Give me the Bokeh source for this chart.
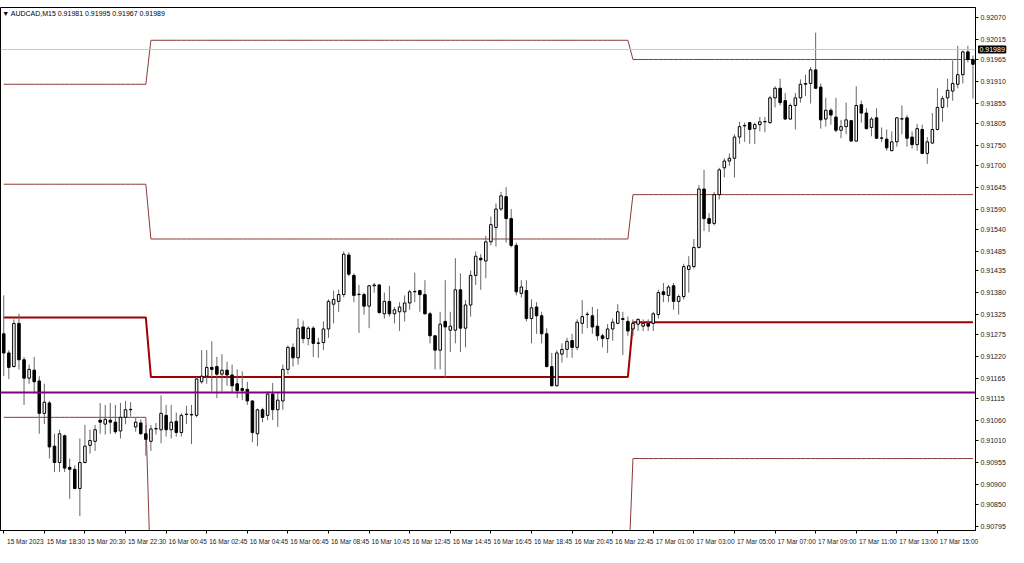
from bokeh.plotting import figure
from bokeh.models import Range1d, FixedTicker, Label, ColumnDataSource, Span, PrintfTickFormatter
from bokeh.embed import file_html
from bokeh.resources import INLINE

# ---- data (AUDCAD M15 candles) ----
opens = [
0.91278,0.91230,0.91196,0.91304,0.91213,0.91167,0.91187,0.91160,0.91079,0.91105,0.90997,0.90956,
0.91023,0.90944,0.90939,0.90891,0.90956,0.90999,0.91009,0.91062,0.91052,0.91062,0.91057,0.91035,
0.91069,0.91088,0.91045,0.91055,0.91028,0.91009,0.91040,0.91038,0.91074,0.91038,0.91059,0.91031,
0.91076,0.91076,0.91074,0.91158,0.91172,0.91194,0.91196,0.91177,0.91187,0.91175,0.91153,0.91141,
0.91139,0.91110,0.91028,0.91088,0.91074,0.91127,0.91088,0.91110,0.91189,0.91244,0.91218,0.91295,
0.91266,0.91292,0.91254,0.91256,0.91290,0.91352,0.91359,0.91376,0.91475,0.91424,0.91376,0.91376,
0.91347,0.91398,0.91400,0.91328,0.91359,0.91328,0.91333,0.91333,0.91355,0.91383,0.91386,0.91376,
0.91328,0.91273,0.91237,0.91309,0.91287,0.91287,0.91388,0.91292,0.91350,0.91424,0.91467,0.91460,
0.91508,0.91544,0.91590,0.91621,0.91566,0.91499,0.91379,0.91386,0.91316,0.91345,0.91323,0.91278,
0.91196,0.91148,0.91227,0.91239,0.91261,0.91244,0.91304,0.91326,0.91323,0.91297,0.91273,0.91266,
0.91290,0.91304,0.91316,0.91309,0.91290,0.91302,0.91297,0.91304,0.91304,0.91326,0.91383,0.91374,
0.91398,0.91359,0.91371,0.91439,0.91446,0.91494,0.91640,0.91566,0.91554,0.91626,0.91693,0.91710,
0.91717,0.91770,0.91799,0.91806,0.91791,0.91801,0.91808,0.91806,0.91868,0.91892,0.91861,0.91815,
0.91849,0.91868,0.91902,0.91904,0.91938,0.91895,0.91815,0.91837,0.91820,0.91787,0.91796,0.91811,
0.91760,0.91851,0.91830,0.91794,0.91818,0.91767,0.91765,0.91736,0.91758,0.91815,0.91818,0.91770,
0.91751,0.91789,0.91729,0.91755,0.91789,0.91844,0.91868,0.91885,0.91902,0.91926,0.91983,0.91964]

highs = [
0.91374,0.91237,0.91314,0.91328,0.91220,0.91201,0.91220,0.91172,0.91153,0.91110,0.91028,0.91038,
0.91026,0.90966,0.90949,0.91016,0.91050,0.91038,0.91050,0.91105,0.91100,0.91105,0.91100,0.91105,
0.91110,0.91107,0.91069,0.91064,0.91050,0.91050,0.91055,0.91124,0.91100,0.91100,0.91081,0.91079,
0.91098,0.91100,0.91170,0.91237,0.91237,0.91259,0.91220,0.91227,0.91208,0.91201,0.91189,0.91184,
0.91158,0.91112,0.91091,0.91093,0.91134,0.91155,0.91129,0.91201,0.91249,0.91254,0.91316,0.91311,
0.91297,0.91297,0.91268,0.91309,0.91364,0.91386,0.91388,0.91484,0.91482,0.91429,0.91400,0.91381,
0.91400,0.91405,0.91403,0.91381,0.91398,0.91345,0.91357,0.91374,0.91388,0.91431,0.91388,0.91412,
0.91333,0.91275,0.91333,0.91412,0.91333,0.91467,0.91429,0.91362,0.91436,0.91484,0.91477,0.91523,
0.91571,0.91604,0.91633,0.91645,0.91590,0.91506,0.91412,0.91412,0.91364,0.91357,0.91333,0.91292,
0.91230,0.91237,0.91254,0.91268,0.91278,0.91314,0.91362,0.91333,0.91345,0.91340,0.91278,0.91302,
0.91316,0.91352,0.91333,0.91321,0.91314,0.91316,0.91314,0.91314,0.91333,0.91388,0.91405,0.91400,
0.91405,0.91376,0.91453,0.91472,0.91515,0.91650,0.91688,0.91580,0.91633,0.91693,0.91717,0.91729,
0.91777,0.91808,0.91806,0.91808,0.91806,0.91820,0.91820,0.91873,0.91897,0.91916,0.91880,0.91854,
0.91880,0.91914,0.91926,0.91945,0.92031,0.91904,0.91868,0.91842,0.91868,0.91813,0.91856,0.91813,
0.91897,0.91861,0.91842,0.91820,0.91842,0.91794,0.91789,0.91784,0.91820,0.91849,0.91825,0.91784,
0.91803,0.91801,0.91770,0.91830,0.91892,0.91873,0.91916,0.91962,0.91998,0.91986,0.91998,0.91974]

lows = [
0.91172,0.91165,0.91194,0.91189,0.91100,0.91153,0.91129,0.91028,0.91052,0.90966,0.90932,0.90932,
0.90932,0.90865,0.90889,0.90822,0.90954,0.90978,0.90985,0.91028,0.91026,0.91028,0.91028,0.91016,
0.91052,0.91071,0.91033,0.91026,0.90973,0.90985,0.91026,0.91004,0.91021,0.91016,0.91021,0.91021,
0.91052,0.91002,0.91069,0.91153,0.91153,0.91134,0.91117,0.91134,0.91148,0.91131,0.91117,0.91112,
0.91100,0.91007,0.90997,0.91057,0.91062,0.91062,0.91045,0.91088,0.91177,0.91196,0.91201,0.91254,
0.91249,0.91220,0.91218,0.91237,0.91268,0.91304,0.91333,0.91369,0.91422,0.91357,0.91280,0.91326,
0.91292,0.91381,0.91328,0.91316,0.91321,0.91304,0.91285,0.91309,0.91338,0.91357,0.91333,0.91326,
0.91254,0.91189,0.91189,0.91170,0.91232,0.91254,0.91232,0.91244,0.91321,0.91400,0.91388,0.91417,
0.91499,0.91496,0.91585,0.91506,0.91494,0.91374,0.91369,0.91309,0.91254,0.91278,0.91254,0.91194,
0.91146,0.91146,0.91206,0.91218,0.91218,0.91237,0.91278,0.91292,0.91278,0.91261,0.91244,0.91230,
0.91261,0.91302,0.91225,0.91273,0.91273,0.91285,0.91285,0.91285,0.91285,0.91316,0.91357,0.91357,
0.91338,0.91326,0.91364,0.91381,0.91441,0.91491,0.91535,0.91532,0.91549,0.91614,0.91669,0.91698,
0.91669,0.91753,0.91758,0.91753,0.91753,0.91784,0.91782,0.91803,0.91844,0.91849,0.91813,0.91813,
0.91789,0.91856,0.91873,0.91854,0.91890,0.91791,0.91796,0.91801,0.91782,0.91767,0.91777,0.91758,
0.91758,0.91806,0.91789,0.91772,0.91765,0.91758,0.91736,0.91734,0.91746,0.91777,0.91746,0.91741,
0.91736,0.91727,0.91703,0.91753,0.91787,0.91808,0.91844,0.91861,0.91892,0.91904,0.91957,0.91866]

closes = [
0.91230,0.91194,0.91304,0.91213,0.91167,0.91189,0.91158,0.91079,0.91107,0.90995,0.90956,0.91028,
0.90942,0.90939,0.90891,0.90956,0.90997,0.91011,0.91038,0.91057,0.91064,0.91057,0.91033,0.91069,
0.91088,0.91089,0.91057,0.91028,0.91014,0.91040,0.91041,0.91079,0.91038,0.91057,0.91031,0.91074,
0.91077,0.91075,0.91165,0.91172,0.91194,0.91189,0.91177,0.91187,0.91175,0.91148,0.91136,0.91136,
0.91110,0.91031,0.91088,0.91069,0.91127,0.91088,0.91112,0.91189,0.91244,0.91218,0.91292,0.91266,
0.91292,0.91254,0.91255,0.91290,0.91359,0.91364,0.91376,0.91477,0.91427,0.91374,0.91377,0.91347,
0.91398,0.91400,0.91331,0.91359,0.91328,0.91338,0.91345,0.91355,0.91383,0.91384,0.91376,0.91328,
0.91273,0.91237,0.91302,0.91295,0.91297,0.91388,0.91292,0.91350,0.91424,0.91472,0.91463,0.91508,
0.91551,0.91590,0.91623,0.91566,0.91499,0.91383,0.91395,0.91316,0.91343,0.91323,0.91278,0.91196,
0.91148,0.91230,0.91239,0.91259,0.91244,0.91307,0.91321,0.91327,0.91295,0.91273,0.91266,0.91290,
0.91307,0.91333,0.91314,0.91285,0.91304,0.91314,0.91304,0.91297,0.91328,0.91381,0.91376,0.91395,
0.91359,0.91371,0.91446,0.91448,0.91494,0.91640,0.91566,0.91554,0.91626,0.91688,0.91710,0.91717,
0.91770,0.91796,0.91798,0.91789,0.91801,0.91808,0.91809,0.91868,0.91892,0.91856,0.91815,0.91849,
0.91868,0.91902,0.91904,0.91938,0.91892,0.91813,0.91837,0.91825,0.91787,0.91796,0.91813,0.91760,
0.91849,0.91830,0.91791,0.91815,0.91767,0.91768,0.91743,0.91758,0.91818,0.91816,0.91767,0.91751,
0.91791,0.91729,0.91758,0.91789,0.91844,0.91866,0.91887,0.91904,0.91926,0.91983,0.91964,0.91952]

# daily levels: bar index where each day starts, and the level value for each day
day_starts = [0, 29, 124]
level_upper = [0.91902, 0.92012, 0.91964]
level_mid = [0.91652, 0.91515, 0.91626]
level_pivot = [0.91319, 0.91170, 0.91307]
level_low = [0.91069, 0.90650, 0.90966]
level_purple = 0.91131
bid_price = 0.91989
title_text = "\u25bc AUDCAD,M15  0.91981 0.91995 0.91967 0.91989"

x_tick_pos = [0, 8, 16, 24, 32, 40, 48, 56, 64, 72, 80, 88, 96, 104, 112, 120,
              128, 136, 144, 152, 160, 168, 176, 184]
x_tick_labels = ["15 Mar 2023", "15 Mar 18:30", "15 Mar 20:30", "15 Mar 22:30",
                 "16 Mar 00:45", "16 Mar 02:45", "16 Mar 04:45", "16 Mar 06:45",
                 "16 Mar 08:45", "16 Mar 10:45", "16 Mar 12:45", "16 Mar 14:45",
                 "16 Mar 16:45", "16 Mar 18:45", "16 Mar 20:45", "16 Mar 22:45",
                 "17 Mar 01:00", "17 Mar 03:00", "17 Mar 05:00", "17 Mar 07:00",
                 "17 Mar 09:00", "17 Mar 11:00", "17 Mar 13:00", "17 Mar 15:00"]
y_ticks = [0.92070, 0.92015, 0.91965, 0.91910, 0.91855, 0.91805, 0.91750, 0.91700,
           0.91645, 0.91590, 0.91540, 0.91485, 0.91435, 0.91380, 0.91325, 0.91275,
           0.91220, 0.91165, 0.91115, 0.91060, 0.91010, 0.90955, 0.90900, 0.90850, 0.90795]

# ---- build ----
n = len(opens)
idx = list(range(n))
src = ColumnDataSource(dict(
    x=idx,
    high=highs,
    low=lows,
    top=[max(o, c) for o, c in zip(opens, closes)],
    bottom=[min(o, c) for o, c in zip(opens, closes)],
    fill=["white" if c >= o else "black" for o, c in zip(opens, closes)],
))

def day_series(levels):
    out = []
    for i in idx:
        d = sum(1 for s in day_starts if i >= s) - 1
        out.append(levels[d])
    return out

FONT = "Liberation Sans"
p = figure(width=1008, height=547, output_backend="svg", toolbar_location=None,
           x_range=Range1d(-0.64, 191.5), y_range=Range1d(0.90786, 0.92094),
           y_axis_location="right", min_border_left=0, min_border_top=0,
           min_border_bottom=0, min_border_right=0)
p.xgrid.visible = False
p.ygrid.visible = False
p.outline_line_color = "black"
p.background_fill_color = "white"
p.border_fill_color = "white"

# level lines
p.add_layout(Span(location=bid_price, dimension="width", line_color="#c8c8c8", line_width=1))
p.line(idx, day_series(level_upper), line_color="#8b3a3a", line_width=1)
p.line(idx, day_series(level_mid), line_color="#8b3a3a", line_width=1)
p.line(idx, day_series(level_low), line_color="#8b3a3a", line_width=1)
p.line(idx, day_series(level_pivot), line_color="#a00000", line_width=2)
p.add_layout(Span(location=level_purple, dimension="width", line_color="#800080", line_width=2))

# candles
p.segment(x0="x", y0="high", x1="x", y1="low", source=src, line_color="#666666", line_width=1)
p.vbar(x="x", width=0.5, top="top", bottom="bottom", source=src,
       fill_color="fill", line_color="black", line_width=1)

# y axis (right)
ya = p.yaxis[0]
ya.ticker = FixedTicker(ticks=y_ticks)
ya.formatter = PrintfTickFormatter(format="%.5f")
ya.major_tick_in = 0
ya.major_tick_out = 3
ya.minor_tick_line_color = None
ya.axis_line_color = "black"
ya.major_label_text_font = FONT
ya.major_label_text_font_size = "7px"
ya.major_label_text_color = "#222222"
ya.major_label_standoff = 2

# x axis (below) - labels start at their tick, MT4 style
OFF = 4.25
xa = p.xaxis[0]
xa.ticker = FixedTicker(ticks=[t + OFF for t in x_tick_pos], minor_ticks=x_tick_pos)
xa.major_label_overrides = {t + OFF: lab for t, lab in zip(x_tick_pos, x_tick_labels)}
xa.major_tick_line_color = None
xa.minor_tick_in = 0
xa.minor_tick_out = 3
xa.minor_tick_line_color = "black"
xa.axis_line_color = "black"
xa.major_label_text_font = FONT
xa.major_label_text_font_size = "6.5px"
xa.major_label_text_color = "#222222"
xa.major_label_standoff = 1

# title and current price
p.add_layout(Label(x=-0.3, y=0.92079, text=title_text, text_font=FONT,
                   text_font_size="7px", text_baseline="middle", text_color="black"))
p.add_layout(Label(x=191.5, y=bid_price, x_offset=3, text="%.5f" % bid_price,
                   text_font=FONT, text_font_size="7px", text_baseline="middle",
                   text_color="white", background_fill_color="black",
                   border_line_color="black", padding=1), "above")

open("out.html", "w").write(file_html(p, INLINE))
